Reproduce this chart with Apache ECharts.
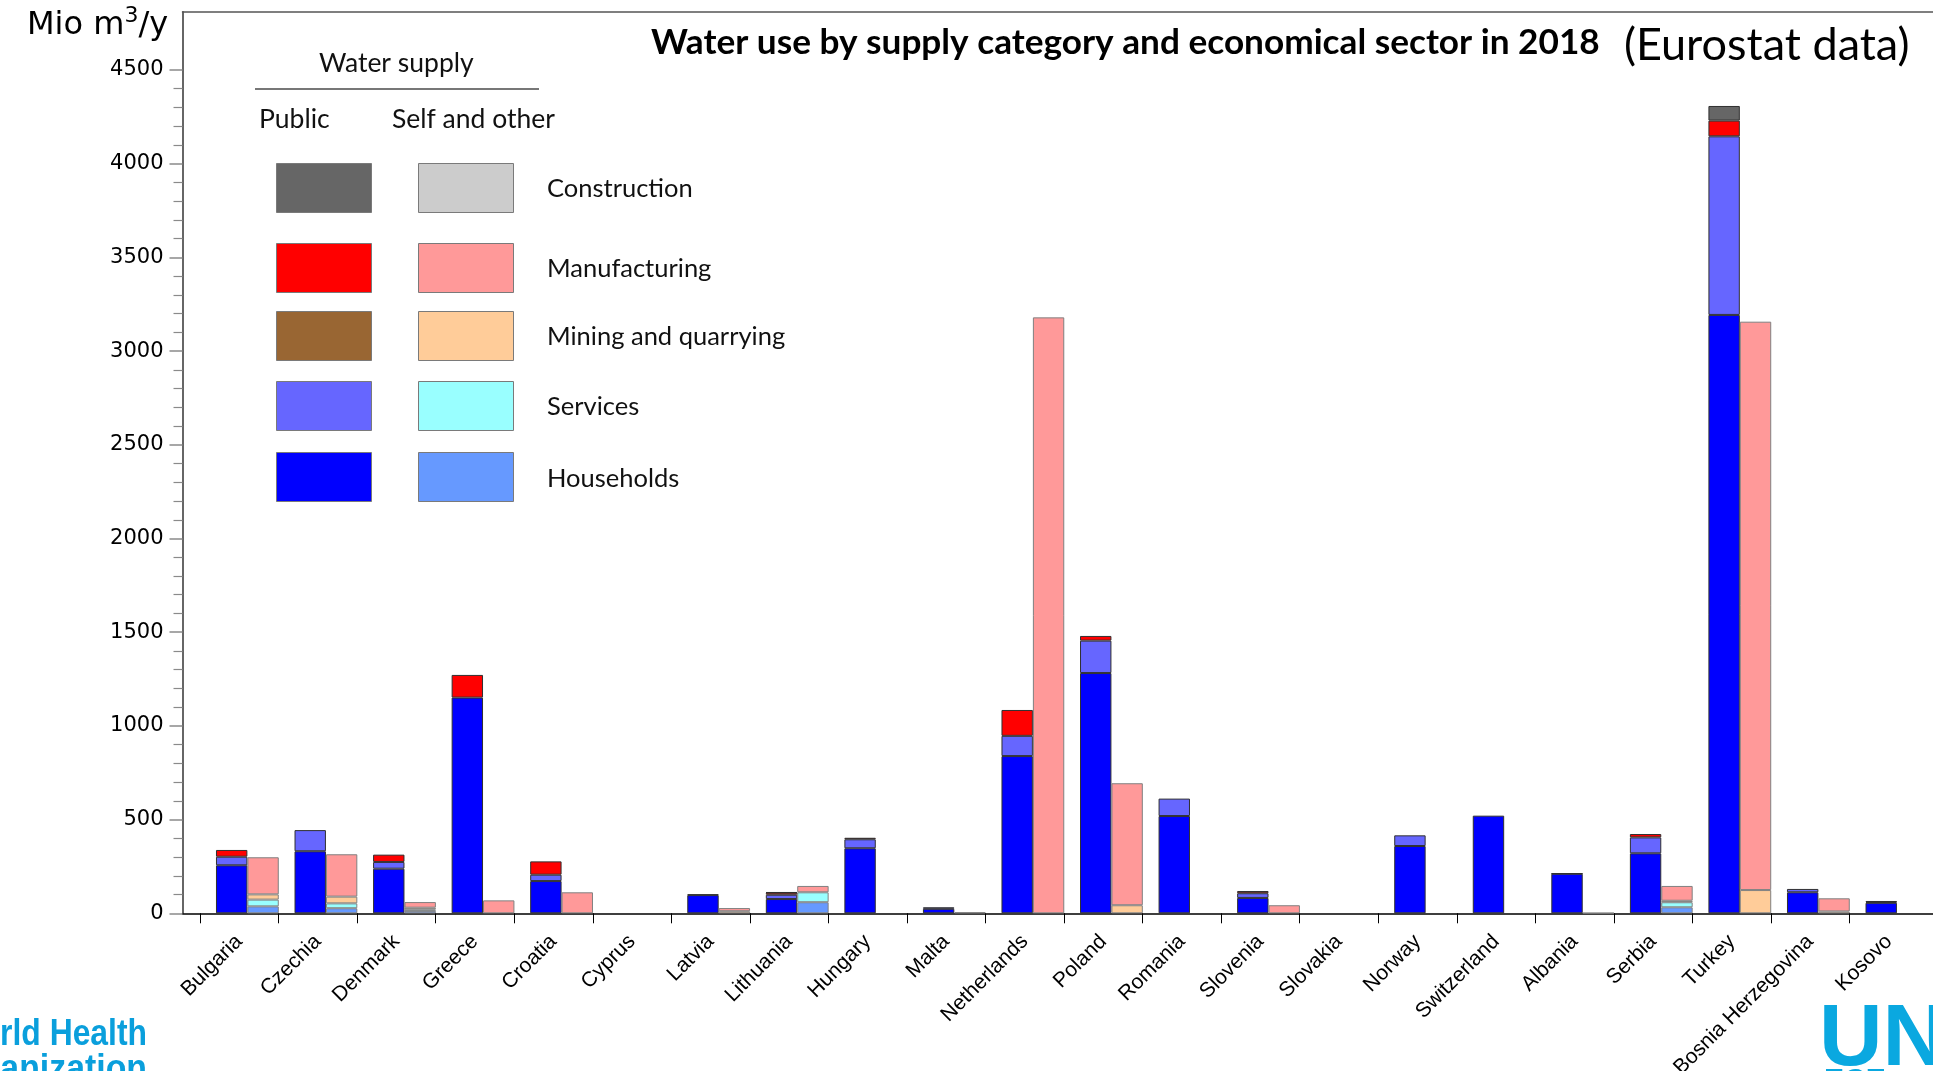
<!DOCTYPE html>
<html>
<head>
<meta charset="utf-8">
<title>Water use by supply category and economical sector in 2018</title>
<script src="https://cdn.jsdelivr.net/npm/echarts@6/dist/echarts.min.js"></script>
<style>
  html, body { margin: 0; padding: 0; background: #ffffff; }
  #chart { width: 1933px; height: 1071px; }
</style>
</head>
<body>
<div id="chart"></div>
<script>
// Countries (one pair of stacked columns each: public supply | self and other supply)
const countries = ['Bulgaria', 'Czechia', 'Denmark', 'Greece', 'Croatia', 'Cyprus', 'Latvia', 'Lithuania',
  'Hungary', 'Malta', 'Netherlands', 'Poland', 'Romania', 'Slovenia', 'Slovakia', 'Norway',
  'Switzerland', 'Albania', 'Serbia', 'Turkey', 'Bosnia Herzegovina', 'Kosovo'];

// Public water supply, Mio m3/y
const publicHouseholds    = [256, 331, 238, 1151, 172, 0, 97, 76, 347, 24, 839, 1282, 519, 82, 0, 359, 521, 211, 320, 3193, 112, 56];
const publicServices      = [46, 113, 36, 0, 34, 0, 4, 23, 48, 8, 108, 173, 93, 25, 0, 57, 0, 2, 85, 953, 18, 5];
const publicMining        = [0, 0, 0, 0, 0, 0, 0, 0, 0, 0, 0, 0, 0, 0, 0, 0, 0, 0, 0, 0, 0, 0];
const publicManufacturing = [36, 0, 39, 121, 71, 0, 0, 11, 8, 0, 138, 25, 0, 12, 0, 0, 0, 0, 18, 84, 0, 4];
const publicConstruction  = [0, 0, 0, 0, 0, 0, 0, 2, 0, 0, 0, 0, 0, 0, 0, 0, 0, 0, 0, 78, 0, 0];

// Self supply and other supply, Mio m3/y
const selfHouseholds    = [37, 27, 13, 0, 0, 0, 0, 59, 0, 0, 0, 0, 0, 0, 0, 0, 0, 0, 32, 0, 0, 0];
const selfServices      = [36, 26, 8, 0, 0, 0, 0, 53, 0, 0, 0, 0, 0, 0, 0, 0, 0, 0, 27, 0, 0, 0];
const selfMining        = [28, 36, 9, 0, 0, 0, 11, 0, 0, 0, 0, 43, 0, 0, 0, 0, 0, 0, 8, 124, 10, 0];
const selfManufacturing = [198, 226, 30, 69, 112, 0, 17, 34, 0, 6, 3180, 651, 0, 43, 0, 0, 0, 2, 79, 3033, 70, 0];
const selfConstruction  = [0, 0, 0, 0, 0, 0, 0, 0, 0, 0, 0, 0, 0, 0, 0, 0, 0, 0, 0, 0, 0, 0];

// Value axis ticks
const yMax = 4500;
const yStep = 500;

// Sectors from the bottom of each column upwards
const sectors = [
  { name: 'Households',           pub: publicHouseholds,    self: selfHouseholds,    cPub: '#0000ff', cSelf: '#6699ff' },
  { name: 'Services',             pub: publicServices,      self: selfServices,      cPub: '#6666ff', cSelf: '#99ffff' },
  { name: 'Mining and quarrying', pub: publicMining,        self: selfMining,        cPub: '#996633', cSelf: '#ffcc99' },
  { name: 'Manufacturing',        pub: publicManufacturing, self: selfManufacturing, cPub: '#ff0000', cSelf: '#ff9999' },
  { name: 'Construction',         pub: publicConstruction,  self: selfConstruction,  cPub: '#666666', cSelf: '#cccccc' }
];

const axisFont = 'DejaVu Sans';
const labelFont = 'Liberation Sans';
const textFont = 'Lato';
const logoFont = '"Liberation Sans", Arial, sans-serif';

// Plot geometry (px)
const frameLeft = 182.5, frameTop = 11.7, plotBottom = 157.7, valueTop = 70;
const band = 78.55;
const barGridLeft = 208.1;
const tickGridLeft = 200;

// Zero entries are left empty so that no flat outline is stroked for them
const asBars = arr => arr.map(v => (v === 0 ? null : v));

const series = [];
sectors.forEach(s => {
  series.push({
    name: s.name + ' (public)', type: 'bar', stack: 'public', xAxisIndex: 0, yAxisIndex: 0,
    barWidth: 31.4, barGap: '0%', data: asBars(s.pub),
    itemStyle: { color: s.cPub, borderColor: '#303030', borderWidth: 1 }
  });
  series.push({
    name: s.name + ' (self)', type: 'bar', stack: 'self', xAxisIndex: 0, yAxisIndex: 0,
    barWidth: 31.4, barGap: '0%', data: asBars(s.self),
    itemStyle: { color: s.cSelf, borderColor: '#808080', borderWidth: 1 }
  });
});

// Legend: two swatch columns (public, self) per sector row
const legendRows = [
  { label: 'Construction', top: 163, cy: 191 },
  { label: 'Manufacturing', top: 243, cy: 271 },
  { label: 'Mining and quarrying', top: 311, cy: 339 },
  { label: 'Services', top: 381, cy: 409 },
  { label: 'Households', top: 452, cy: 481 }
];
const graphics = [];
legendRows.forEach(r => {
  const s = sectors.find(x => x.name === r.label);
  graphics.push({ type: 'rect', left: 276, top: r.top, shape: { width: 95, height: 49 },
    style: { fill: s.cPub, stroke: '#7a7a7a', lineWidth: 1 } });
  graphics.push({ type: 'rect', left: 418, top: r.top, shape: { width: 95, height: 49 },
    style: { fill: s.cSelf, stroke: '#7a7a7a', lineWidth: 1 } });
  graphics.push({ type: 'text', left: 547, top: r.cy - 15,
    style: { text: r.label, font: '25.5px ' + textFont, fill: '#111' } });
});
graphics.push(
  { type: 'text', left: 319, top: 50, style: { text: 'Water supply', font: '26.5px ' + textFont, fill: '#111' } },
  { type: 'line', shape: { x1: 255, y1: 89, x2: 539, y2: 89 }, style: { stroke: '#777', lineWidth: 2 } },
  { type: 'text', left: 259, top: 106, style: { text: 'Public', font: '26.5px ' + textFont, fill: '#111' } },
  { type: 'text', left: 392, top: 106, style: { text: 'Self and other', font: '26.5px ' + textFont, fill: '#111' } },
  // unit label of the value axis
  { type: 'text', left: 27, top: 5, style: {
      text: '{a|Mio m}{s|3}{a|/y}',
      rich: {
        a: { fontFamily: axisFont, fontSize: 32, fill: '#000', verticalAlign: 'bottom', lineHeight: 37 },
        s: { fontFamily: axisFont, fontSize: 22, fill: '#000', verticalAlign: 'top', lineHeight: 37, padding: [0, 0, 14, 0] }
      } } },
  // titles
  { type: 'text', left: 651, top: 25, style: {
      text: 'Water use by supply category and economical sector in 2018',
      font: 'bold 35.2px ' + textFont, fill: '#000' } },
  { type: 'text', left: 1624, top: 23, style: {
      text: '(Eurostat data)', font: '45px ' + textFont, fill: '#000' } },
  // organisation marks at the bottom corners
  { type: 'text', x: 147, y: 1017, scaleX: 0.885, style: {
      text: 'World Health', font: 'bold 36px ' + logoFont, fill: '#0a9fdc', textAlign: 'right' } },
  { type: 'text', x: 147, y: 1052, scaleX: 0.94, style: {
      text: 'Organization', font: 'bold 36px ' + logoFont, fill: '#0a9fdc', textAlign: 'right' } },
  { type: 'text', left: 1819, top: 997, style: {
      text: 'UN', font: 'bold 88px ' + logoFont, fill: '#0aa8e0' } },
  { type: 'text', left: 1824, top: 1066, style: {
      text: 'ECE', font: 'bold 30px ' + logoFont, fill: '#0aa8e0' } }
);

const noBounds = { containLabel: false, outerBoundsMode: 'none' };

const chart = echarts.init(document.getElementById('chart'), null, { renderer: 'canvas' });
chart.setOption({
  animation: false,
  backgroundColor: '#ffffff',
  grid: [
    // bars and value scale
    Object.assign({ left: barGridLeft, top: valueTop, width: band * countries.length, bottom: plotBottom }, noBounds),
    // plot frame
    Object.assign({ left: frameLeft, top: frameTop, right: 0, bottom: plotBottom }, noBounds),
    // group separator ticks on the category axis
    Object.assign({ left: tickGridLeft, top: frameTop, width: band * (countries.length - 1), bottom: plotBottom }, noBounds),
    // country names, centred between the separator ticks
    Object.assign({ left: tickGridLeft, top: frameTop, width: band * countries.length, bottom: plotBottom }, noBounds)
  ],
  xAxis: [
    { gridIndex: 0, type: 'category', data: countries,
      axisLine: { show: false }, axisTick: { show: false }, axisLabel: { show: false } },
    { gridIndex: 1, type: 'value', position: 'bottom', min: 0, max: 1,
      axisLine: { show: true, onZero: false, lineStyle: { color: '#000', width: 1.5 } },
      axisTick: { show: false }, axisLabel: { show: false }, splitLine: { show: false } },
    { gridIndex: 1, type: 'value', position: 'top', min: 0, max: 1,
      axisLine: { show: true, onZero: false, lineStyle: { color: '#555', width: 1.5 } },
      axisTick: { show: false }, axisLabel: { show: false }, splitLine: { show: false } },
    { gridIndex: 2, type: 'category', data: countries, boundaryGap: false,
      axisLine: { show: false },
      axisTick: { show: true, interval: 0, length: 10, lineStyle: { color: '#000', width: 1 } },
      axisLabel: { show: false, interval: 0 }, splitLine: { show: false } },
    { gridIndex: 3, type: 'category', data: countries, boundaryGap: true,
      axisLine: { show: false }, axisTick: { show: false }, splitLine: { show: false },
      axisLabel: { interval: 0, rotate: 45, margin: 25, fontFamily: labelFont, fontSize: 21, color: '#000' } }
  ],
  yAxis: [
    { gridIndex: 0, type: 'value', min: 0, max: yMax, interval: yStep, offset: barGridLeft - frameLeft,
      axisLine: { show: false },
      axisTick: { show: true, length: 13, lineStyle: { color: '#8a8a8a', width: 1.5 } },
      minorTick: { show: true, splitNumber: 5, length: 9, lineStyle: { color: '#8a8a8a', width: 1.2 } },
      splitLine: { show: false },
      axisLabel: { margin: 19, fontFamily: axisFont, fontSize: 21, color: '#000',
        formatter: v => String(v) } },
    { gridIndex: 1, type: 'value', min: 0, max: 1,
      axisLine: { show: true, onZero: false, lineStyle: { color: '#333', width: 1.5 } },
      axisTick: { show: false }, axisLabel: { show: false }, splitLine: { show: false } },
    { gridIndex: 2, type: 'value', show: false },
    { gridIndex: 3, type: 'value', show: false }
  ],
  series: series,
  graphic: graphics
});
</script>
</body>
</html>
